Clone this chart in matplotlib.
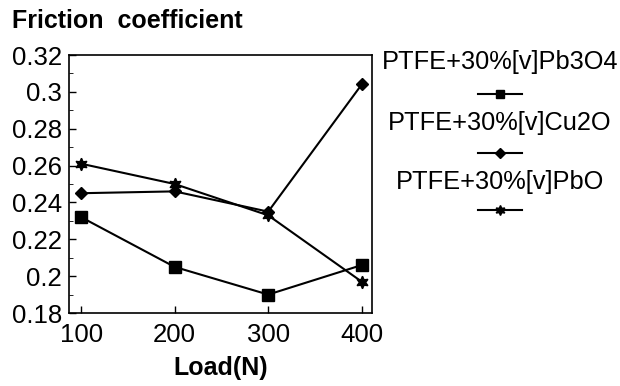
import matplotlib.pyplot as plt
from matplotlib.lines import Line2D
from matplotlib.ticker import MultipleLocator

plt.rcParams['font.family'] = ['Liberation Sans', 'DejaVu Sans']

load = [100, 200, 300, 400]
pb3o4 = [0.232, 0.205, 0.190, 0.206]
cu2o = [0.245, 0.246, 0.235, 0.304]
pbo = [0.261, 0.250, 0.233, 0.197]
labels = ['PTFE+30%[v]Pb3O4', 'PTFE+30%[v]Cu2O', 'PTFE+30%[v]PbO']
markers = ['s', 'D', (6, 1, 0)]
msizes = [8, 6, 9]

fig = plt.figure(figsize=(6.2, 3.86), dpi=100)
ax = fig.add_axes([0.1113, 0.1891, 0.4887, 0.6684])

for y, m, ms in zip([pb3o4, cu2o, pbo], markers, msizes):
    ax.plot(load, y, color='black', lw=1.5, marker=m, ms=ms,
            mfc='black', mec='black', clip_on=False)

ax.set_xlim(87, 411)
ax.set_ylim(0.18, 0.32)
ax.set_xticks(load)
ax.set_yticks([0.18, 0.20, 0.22, 0.24, 0.26, 0.28, 0.30, 0.32])
ax.set_yticklabels(['0.18', '0.2', '0.22', '0.24', '0.26', '0.28', '0.3', '0.32'])
ax.yaxis.set_minor_locator(MultipleLocator(0.01))
ax.tick_params(direction='in', labelsize=18.5, length=5, width=1, pad=5)
ax.tick_params(axis='x', pad=7)
ax.tick_params(axis='y', which='minor', direction='in', length=3)
for s in ax.spines.values():
    s.set_linewidth(1.2)

fig.text(12 / 620, 1 - 28 / 386, 'Friction  coefficient', fontsize=18,
         fontweight='bold', ha='left', va='baseline')
fig.text(221 / 620, 1 - 368 / 386, 'Load(N)', fontsize=18,
         fontweight='bold', ha='center', va='center')

# hand-made legend: label above a short line with marker
text_y = [62, 123, 182]
mark_y = [94, 153, 210]
for lab, ty, my, m, ms in zip(labels, text_y, mark_y, markers, msizes):
    fig.text(500 / 620, 1 - ty / 386, lab, fontsize=18.3, ha='center', va='center')
    yy = 1 - my / 386
    fig.add_artist(Line2D([478 / 620, 522 / 620], [yy, yy], color='black',
                          lw=1.5, transform=fig.transFigure))
    fig.add_artist(Line2D([500 / 620], [yy], color='black', marker=m,
                          ms=ms * 0.8, transform=fig.transFigure))

fig.savefig('out.png', dpi=100)
